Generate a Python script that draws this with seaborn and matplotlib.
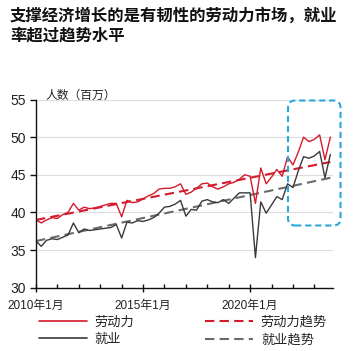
import numpy as np
import pandas as pd
import matplotlib
matplotlib.use("Agg")
import matplotlib.pyplot as plt
import matplotlib.dates as mdates
from matplotlib.patches import FancyBboxPatch
from matplotlib.lines import Line2D
import seaborn as sns

sns.set_theme(style="white")
plt.rcParams['font.family'] = ['Liberation Sans', 'Noto Sans CJK SC']

# ---- data (quarterly, 2010Q1 .. 2023Q4) ----
dates = pd.date_range("2010-01-01", periods=56, freq="QS")
labor = [39.0, 38.6, 39.0, 39.3, 39.2, 39.7, 40.0, 41.2,
         40.3, 40.7, 40.5, 40.6, 40.8, 41.0, 41.2, 41.2,
         39.4, 41.6, 41.3, 41.4, 41.8, 42.2, 42.5, 43.1,
         43.2, 43.2, 43.4, 43.8, 42.4, 42.7, 43.2, 43.8,
         43.9, 43.4, 43.1, 43.4, 43.8, 44.0, 44.4, 45.0,
         44.8, 41.2, 45.9, 43.8, 44.7, 45.7, 44.8, 47.4,
         46.3, 48.0, 50.0, 49.4, 49.7, 50.3, 47.0, 50.0]
employment = [36.2, 35.5, 36.3, 36.5, 36.4, 36.7, 37.0, 38.6,
              37.3, 37.8, 37.6, 37.7, 37.8, 37.9, 38.0, 38.4,
              36.6, 38.7, 38.6, 38.9, 38.8, 39.0, 39.3, 39.9,
              40.7, 40.8, 41.1, 41.6, 39.5, 40.4, 40.3, 41.5,
              41.7, 41.4, 41.3, 41.7, 41.2, 41.9, 42.6, 42.6,
              42.6, 34.0, 41.4, 39.9, 41.0, 42.1, 41.7, 43.8,
              43.3, 45.5, 47.4, 47.2, 47.5, 48.1, 44.6, 47.7]
trend_dates = pd.to_datetime(["2010-01-01", "2023-10-01"])
labor_trend = [39.0, 46.7]
employment_trend = [36.2, 44.6]

title = "支撑经济增长的是有韧性的劳动力市场，就业\n率超过趋势水平"
ylabel = "人数（百万）"
series_names = ["劳动力", "就业", "劳动力趋势", "就业趋势"]
xtick_dates = pd.to_datetime(["2010-01-01", "2015-01-01", "2020-01-01"])
xtick_labels = ["2010年1月", "2015年1月", "2020年1月"]
yticks = [30, 35, 40, 45, 50, 55]

RED = "#d51a2c"
BLACK = "#3a3a3a"
GRAY = "#6a6a6a"
DASH = (0, (4.5, 2.5))

W, H = 358, 351
fig = plt.figure(figsize=(W / 100, H / 100), dpi=100)
ax = fig.add_axes([36 / W, 1 - 287.7 / H, (333 - 36) / W, (287.7 - 99.5) / H])

df = pd.DataFrame({"date": dates, "labor": labor, "employment": employment})
tf = pd.DataFrame({"date": trend_dates, "lt": labor_trend, "et": employment_trend})

sns.lineplot(data=tf, x="date", y="lt", ax=ax, color=RED, lw=1.5, linestyle=DASH)
sns.lineplot(data=tf, x="date", y="et", ax=ax, color=GRAY, lw=1.5, linestyle=DASH)
sns.lineplot(data=df, x="date", y="labor", ax=ax, color=RED, lw=1.0)
sns.lineplot(data=df, x="date", y="employment", ax=ax, color=BLACK, lw=1.0)

ax.set_ylim(30, 55)
ax.set_xlim(pd.Timestamp("2010-01-01"), pd.Timestamp("2023-11-15"))
ax.set_yticks(yticks)
ax.set_yticklabels([str(v) for v in yticks], fontsize=10, color="#222222")
ax.set_xticks(xtick_dates)
ax.set_xticklabels(xtick_labels, fontsize=8.5, color="#222222")
ax.xaxis.set_minor_locator(mdates.YearLocator(1))
ax.set_xlabel("")
ax.set_ylabel("")
for y in yticks[1:]:
    ax.axhline(y, color="#dcdcdc", lw=0.8, zorder=0)
ax.grid(False)
for s in ["top", "right"]:
    ax.spines[s].set_visible(False)
for s in ["left", "bottom"]:
    ax.spines[s].set_color("#111111")
    ax.spines[s].set_linewidth(1.0)
ax.tick_params(axis="y", which="major", direction="out", length=4, width=1, color="#111111", left=True, pad=3)
ax.tick_params(axis="x", which="major", direction="inout", length=6, width=1, color="#111111", bottom=True, pad=6)
ax.tick_params(axis="x", which="minor", direction="in", length=3, width=1, color="#111111", bottom=True)

fig.text(45 / W, 1 - 96 / H, ylabel, fontsize=8.5, ha="left", va="center", color="#222222")

fig.text(10 / W, 1 - 7 / H, title, fontsize=11.8, fontweight="bold", ha="left", va="top",
         linespacing=1.35, color="#111111")

box = FancyBboxPatch((288 / W, 1 - 225.5 / H), (340.5 - 288) / W, (225.5 - 100.5) / H,
                     boxstyle="round,pad=0,rounding_size=0.02", transform=fig.transFigure,
                     fill=False, edgecolor="#2aa8dc", lw=1.5, linestyle=(0, (3, 1.8)), clip_on=False)
fig.patches.append(box)

handles = [Line2D([], [], color=RED, lw=1.2),
           Line2D([], [], color=BLACK, lw=1.2),
           Line2D([], [], color=RED, lw=1.5, linestyle=DASH),
           Line2D([], [], color=GRAY, lw=1.5, linestyle=DASH)]
leg = fig.legend(handles, series_names, ncol=2, loc="upper left",
                 bbox_to_anchor=(39 / W, 1 - 316 / H), frameon=False, fontsize=9.5,
                 handlelength=3.6, handletextpad=0.6, columnspacing=5.4,
                 labelspacing=0.4, borderaxespad=0, borderpad=0)
for t in leg.get_texts():
    t.set_color("#222222")

fig.savefig("out.png", dpi=100)
